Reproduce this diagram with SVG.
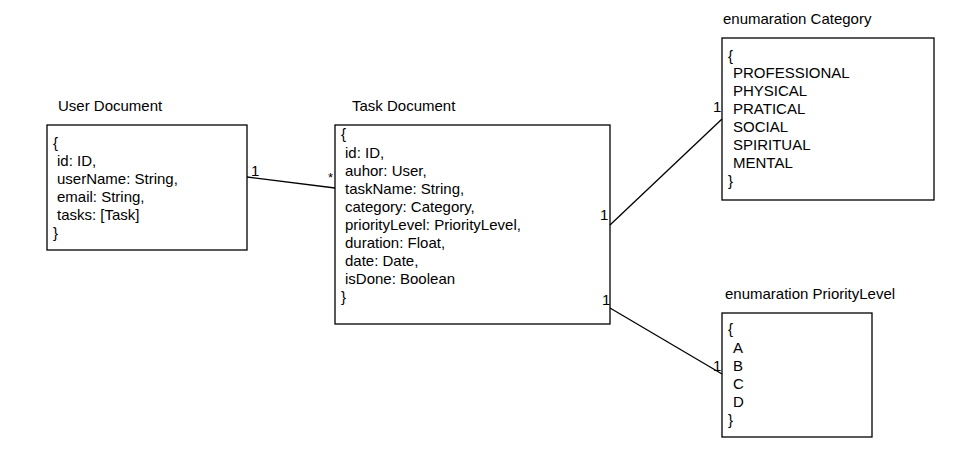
<svg xmlns="http://www.w3.org/2000/svg" width="958" height="472" viewBox="0 0 958 472">
<style>
text{font-family:"Liberation Sans",Arial,sans-serif;font-size:15px;fill:#000}
.box{fill:#fff;stroke:#000;stroke-width:1.3}
.edge{stroke:#000;stroke-width:1.3;fill:none}
</style>
<rect width="958" height="472" fill="#fff"/>
<g id="user">
<text x="58" y="111">User Document</text>
<rect class="box" x="47" y="125" width="200" height="125"/>
<text x="53" y="148">{</text>
<text x="57" y="166">id: ID,</text>
<text x="57" y="184">userName: String,</text>
<text x="57" y="202">email: String,</text>
<text x="57" y="220">tasks: [Task]</text>
<text x="53" y="238">}</text>
</g>
<g id="task">
<text x="352" y="111">Task Document</text>
<rect class="box" x="335" y="125" width="275" height="199"/>
<text x="341" y="139">{</text>
<text x="345" y="158">id: ID,</text>
<text x="345" y="176">auhor: User,</text>
<text x="345" y="194">taskName: String,</text>
<text x="345" y="212">category: Category,</text>
<text x="345" y="230">priorityLevel: PriorityLevel,</text>
<text x="345" y="248">duration: Float,</text>
<text x="345" y="266">date: Date,</text>
<text x="345" y="284">isDone: Boolean</text>
<text x="341" y="302">}</text>
</g>
<g id="category">
<text x="723" y="24">enumaration Category</text>
<rect class="box" x="722" y="38" width="212" height="162"/>
<text x="728" y="61">{</text>
<text x="733" y="78">PROFESSIONAL</text>
<text x="733" y="96">PHYSICAL</text>
<text x="733" y="114">PRATICAL</text>
<text x="733" y="132">SOCIAL</text>
<text x="733" y="150">SPIRITUAL</text>
<text x="733" y="168">MENTAL</text>
<text x="728" y="186">}</text>
</g>
<g id="priority">
<text x="725" y="299">enumaration PriorityLevel</text>
<rect class="box" x="722" y="313" width="150" height="124"/>
<text x="728" y="334">{</text>
<text x="733" y="353">A</text>
<text x="733" y="371">B</text>
<text x="733" y="389">C</text>
<text x="733" y="407">D</text>
<text x="728" y="425">}</text>
</g>
<g id="connectors">
<line class="edge" x1="247" y1="177" x2="335" y2="188"/>
<text x="251" y="176">1</text>
<text x="328" y="182" style="font-size:13px">*</text>
<line class="edge" x1="610" y1="225" x2="722" y2="119"/>
<text x="600" y="220">1</text>
<text x="713" y="112">1</text>
<line class="edge" x1="610" y1="308" x2="722" y2="374"/>
<text x="602" y="305">1</text>
<text x="713" y="371">1</text>
</g>
</svg>
